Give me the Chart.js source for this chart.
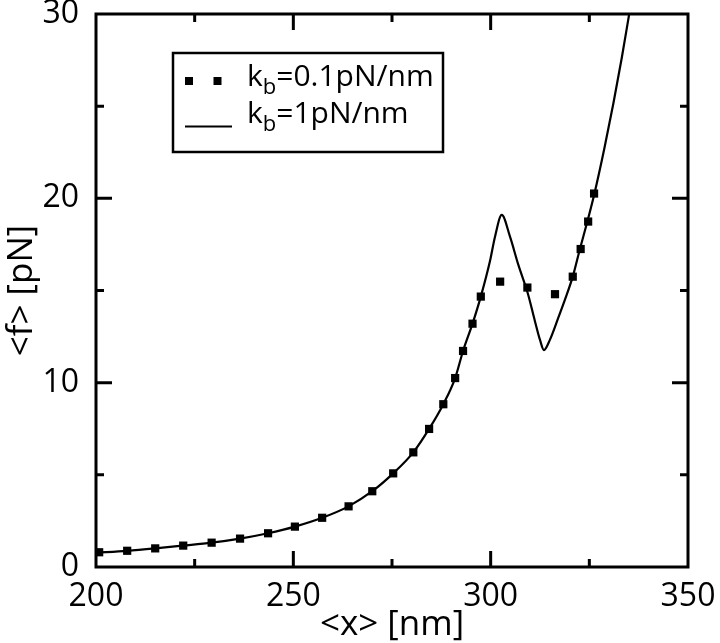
<!DOCTYPE html>
<html>
<head>
<meta charset="utf-8">
<script src="https://cdn.jsdelivr.net/npm/chart.js@4.4.1/dist/chart.umd.min.js"></script>
<style>
    html, body { margin: 0; background: #fff; }
</style>
</head>
<body>
<canvas id="force_chart" width="720" height="643"></canvas>
<script>
// kb = 0.1 pN/nm (square markers)
const soft_x = [200.8, 207.9, 215.0, 222.1, 229.3, 236.5, 243.6, 250.4, 257.3, 264.0, 270.0, 275.3, 280.4,
    284.4, 288.0, 291.0, 293.0, 295.4, 297.5, 302.4, 309.3, 316.3, 320.8, 322.8, 324.7, 326.2]
const soft_f = [0.80, 0.88, 1.01, 1.16, 1.32, 1.54, 1.83, 2.19, 2.67, 3.29, 4.11, 5.08, 6.22,
    7.49, 8.83, 10.25, 11.72, 13.2, 14.67, 15.48, 15.16, 14.80, 15.75, 17.25, 18.74, 20.26]

// kb = 1 pN/nm (solid line)
const stiff_x = [200, 207.9, 215, 222.1, 229.3, 236.5, 243.6, 250.4, 257.3, 264, 270, 275.3, 280.4, 284.4,
    288, 291, 293, 295.4, 297.5, 299.8, 301.1, 302.8, 304.9, 307.0, 309.4, 311.2, 312.5, 313.5, 315.0,
    317.1, 318.8, 320.8, 322.6, 324.5, 326.3, 328.8, 331.1, 333.2, 335.1]
const stiff_f = [0.78, 0.88, 1.01, 1.16, 1.32, 1.54, 1.83, 2.19, 2.67, 3.29, 4.11, 5.08, 6.22, 7.49,
    8.83, 10.25, 11.72, 13.2, 14.67, 16.57, 17.92, 19.1, 17.92, 16.4, 14.85, 13.35, 12.32, 11.77, 12.32,
    13.5, 14.49, 15.75, 17.24, 18.74, 20.26, 22.7, 25.16, 27.6, 30]

const series_labels = ["k_b=0.1pN/nm", "k_b=1pN/nm"]
const x_range = [200, 350]
const y_range = [0, 30]
const x_major = 50, x_minor = 25
const y_major = 10, y_minor = 5

const font_name = "'Open Sans', 'DejaVu Sans', sans-serif"

function toPoints(xs, ys) {
    return xs.map((x, i) => ({ x: x, y: ys[i] }))
}

// box + inward tick marks, xmgrace style
const framePlugin = {
    id: "frame",
    afterDraw(chart) {
        const ctx = chart.ctx
        const area = chart.chartArea
        const xs = chart.scales.x
        const ys = chart.scales.y
        ctx.save()
        ctx.strokeStyle = "#000"
        ctx.lineWidth = 3
        ctx.strokeRect(area.left, area.top, area.right - area.left, area.bottom - area.top)
        ctx.beginPath()
        xs.ticks.forEach(t => {
            let px = xs.getPixelForValue(t.value)
            let len = t.value % x_major == 0 ? 16 : 8
            if (t.value == x_range[0] || t.value == x_range[1]) return
            ctx.moveTo(px, area.bottom)
            ctx.lineTo(px, area.bottom - len)
            ctx.moveTo(px, area.top)
            ctx.lineTo(px, area.top + len)
        })
        ys.ticks.forEach(t => {
            let py = ys.getPixelForValue(t.value)
            let len = t.value % y_major == 0 ? 16 : 8
            if (t.value == y_range[0] || t.value == y_range[1]) return
            ctx.moveTo(area.left, py)
            ctx.lineTo(area.left + len, py)
            ctx.moveTo(area.right, py)
            ctx.lineTo(area.right - len, py)
        })
        ctx.stroke()
        ctx.restore()
    }
}

// legend with subscripted labels
function drawLabel(ctx, text, x, y) {
    let parts = text.split("_")
    ctx.font = "30px " + font_name
    ctx.fillText(parts[0], x, y)
    x += ctx.measureText(parts[0]).width
    if (parts.length > 1) {
        let sub = parts[1].charAt(0)
        let rest = parts[1].slice(1)
        ctx.font = "22px " + font_name
        ctx.fillText(sub, x, y + 8)
        x += ctx.measureText(sub).width
        ctx.font = "30px " + font_name
        ctx.fillText(rest, x, y)
    }
}

const legendPlugin = {
    id: "boxlegend",
    afterDraw(chart) {
        const ctx = chart.ctx
        ctx.save()
        ctx.strokeStyle = "#000"
        ctx.fillStyle = "#000"
        ctx.lineWidth = 2.5
        ctx.strokeRect(173, 53, 270, 99)
        // marker entry
        ctx.fillRect(185, 77, 8, 8)
        ctx.fillRect(213.5, 77, 8, 8)
        // line entry
        ctx.lineWidth = 2
        ctx.beginPath()
        ctx.moveTo(185, 126.5)
        ctx.lineTo(232, 126.5)
        ctx.stroke()
        ctx.textBaseline = "alphabetic"
        drawLabel(ctx, chart.data.datasets[0].label, 247, 86)
        drawLabel(ctx, chart.data.datasets[1].label, 247, 123)
        ctx.restore()
    }
}

let chart = new Chart(document.getElementById("force_chart").getContext("2d"), {
    type: "scatter",
    data: {
        datasets: [{
            label: series_labels[0],
            data: toPoints(soft_x, soft_f),
            showLine: false,
            pointStyle: "rect",
            pointRadius: 5.8,
            backgroundColor: "#000",
            borderColor: "#000",
            borderWidth: 0
        }, {
            label: series_labels[1],
            data: toPoints(stiff_x, stiff_f),
            showLine: true,
            pointRadius: 0,
            borderColor: "#000",
            backgroundColor: "#000",
            borderWidth: 2.2,
            cubicInterpolationMode: "monotone"
        }]
    },
    options: {
        responsive: false,
        animation: false,
        devicePixelRatio: 1,
        layout: { padding: { left: 0, right: 32, top: 14, bottom: 0 } },
        plugins: {
            legend: { display: false },
            tooltip: { enabled: false }
        },
        scales: {
            x: {
                type: "linear",
                min: x_range[0],
                max: x_range[1],
                grid: { display: false },
                border: { display: false },
                ticks: {
                    stepSize: x_minor,
                    autoSkip: false,
                    maxRotation: 0,
                    padding: 3,
                    color: "#000",
                    font: { family: font_name, size: 32 },
                    callback: v => v % x_major == 0 ? v : ""
                },
                title: {
                    display: true,
                    text: "<x> [nm]",
                    color: "#000",
                    padding: { top: 0, bottom: -3 },
                    font: { family: font_name, size: 35 }
                },
                afterFit: s => {
                    s.height = 76
                    s.paddingLeft = 0
                    s.paddingRight = 0
                }
            },
            y: {
                type: "linear",
                min: y_range[0],
                max: y_range[1],
                grid: { display: false },
                border: { display: false },
                ticks: {
                    stepSize: y_minor,
                    autoSkip: false,
                    padding: 9,
                    color: "#000",
                    font: { family: font_name, size: 32 },
                    callback: v => v % y_major == 0 ? v : ""
                },
                title: {
                    display: true,
                    text: "<f> [pN]",
                    color: "#000",
                    padding: { top: 1, bottom: 0 },
                    font: { family: font_name, size: 35 }
                },
                afterFit: s => {
                    s.width = 96
                    s.paddingTop = 0
                    s.paddingBottom = 0
                }
            }
        }
    },
    plugins: [framePlugin, legendPlugin]
})
</script>
</body>
</html>
